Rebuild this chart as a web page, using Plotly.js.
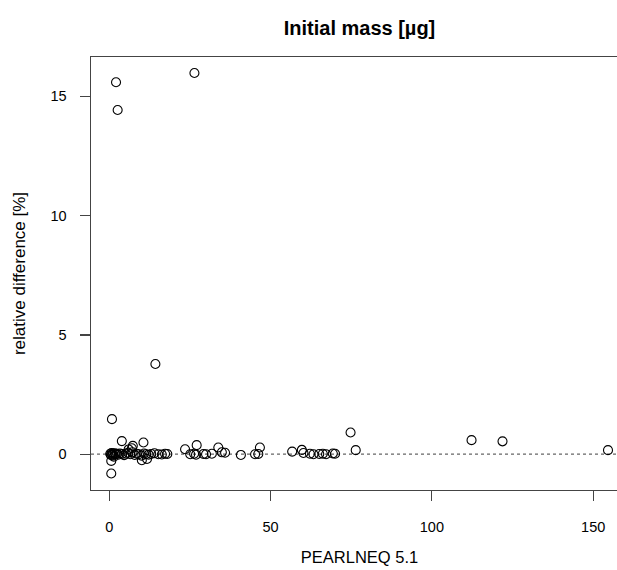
<!DOCTYPE html>
<html>
<head>
<meta charset="utf-8">
<script src="https://cdn.plot.ly/plotly-3.0.1.min.js"></script>
<style>
html, body { margin: 0; padding: 0; overflow: hidden; background: #fff; }
#chart { width: 640px; height: 570px; }
</style>
</head>
<body>
<div id="chart"></div>
<script>
// PEARLNEQ 5.1 initial mass (x) vs relative difference in % (y)
const pearlneq = [
  2.1, 2.6, 26.4, 14.3, 0.84, 0.62, 0.62, 3.9, 7.3, 7.0, 10.6, 6.0, 10.1, 11.7,
  23.5, 27.1, 33.8, 46.7, 56.7, 59.7, 74.8, 76.4, 112.3, 121.9, 154.6,
  0.3, 0.5, 0.7, 0.9, 1.0, 1.2, 1.4, 1.7, 2.0, 2.4, 2.8, 3.3, 4.0, 4.6, 5.2, 5.8,
  6.5, 7.2, 7.9, 8.5, 9.2, 10.0, 10.8, 11.4, 12.2, 13.0, 14.0, 15.2, 16.3, 17.3, 18.0,
  25.1, 26.3, 26.9, 29.2, 30.0, 31.8, 34.9, 35.9, 40.8, 45.2, 46.2,
  60.2, 62.2, 63.3, 65.1, 66.2, 67.2, 69.3, 70.0
];
const relDiff = [
  15.59, 14.43, 15.98, 3.78, 1.47, -0.81, -0.28, 0.55, 0.35, 0.25, 0.49, 0.20, -0.25, -0.20,
  0.21, 0.38, 0.28, 0.28, 0.11, 0.18, 0.91, 0.17, 0.59, 0.54, 0.17,
  0.02, -0.03, 0.05, 0.00, -0.05, 0.03, -0.10, 0.04, 0.00, 0.02, -0.02, 0.03, 0.01, -0.04, 0.02, 0.06,
  0.00, 0.08, -0.03, 0.02, 0.00, -0.06, 0.03, 0.00, -0.02, 0.01, 0.04, 0.00, -0.01, 0.02, 0.01,
  0.00, 0.02, -0.02, 0.01, 0.00, 0.02, 0.08, 0.06, -0.03, 0.00, 0.01,
  0.05, 0.02, 0.00, 0.01, 0.02, 0.00, 0.03, 0.02
];
const xTicks = [0, 50, 100, 150];
const yTicks = [0, 5, 10, 15];

const font = "'Liberation Sans', Arial, sans-serif";
const boxColor = '#444';

const trace = {
  x: pearlneq,
  y: relDiff,
  type: 'scatter',
  mode: 'markers',
  marker: { symbol: 'circle-open', size: 9, color: '#000', line: { width: 1.1, color: '#000' } },
  hoverinfo: 'x+y',
  showlegend: false
};

const layout = {
  width: 640,
  height: 570,
  margin: { l: 91, r: 12, t: 57, b: 80 },
  paper_bgcolor: '#fff',
  plot_bgcolor: '#fff',
  font: { family: font, color: '#000', size: 14.5 },
  title: {
    text: '<b>Initial mass [µg]</b>',
    font: { family: font, size: 20, color: '#000' },
    x: 0.5, xref: 'paper', xanchor: 'center',
    y: 1 - 28 / 570, yref: 'container', yanchor: 'middle'
  },
  xaxis: {
    range: [-5.66, 160.8],
    tickvals: xTicks,
    ticktext: xTicks.map(String),
    ticks: 'outside', ticklen: 10, tickwidth: 1.2, tickcolor: boxColor,
    showline: true, mirror: true, linecolor: boxColor, linewidth: 1.4,
    showgrid: false, zeroline: false,
    ticklabelstandoff: 13,
    tickfont: { family: font, size: 14.5, color: '#000' },
    title: { text: 'PEARLNEQ 5.1', font: { family: font, size: 16.5, color: '#000' }, standoff: 17 }
  },
  yaxis: {
    range: [-1.5, 16.65],
    tickvals: yTicks,
    ticktext: yTicks.map(String),
    ticks: 'outside', ticklen: 10, tickwidth: 1.2, tickcolor: boxColor,
    showline: true, mirror: true, linecolor: boxColor, linewidth: 1.4,
    showgrid: false, zeroline: false,
    ticklabelstandoff: 10,
    tickfont: { family: font, size: 14.5, color: '#000' },
    title: { text: 'relative difference [%]', font: { family: font, size: 17, color: '#000' }, standoff: 20 }
  },
  shapes: [{
    type: 'line', xref: 'paper', x0: 0, x1: 1, yref: 'y', y0: 0, y1: 0,
    line: { color: '#666', width: 1.3, dash: 'dot' }, layer: 'below'
  }]
};

Plotly.newPlot('chart', [trace], layout, { displayModeBar: false, staticPlot: true });
</script>
</body>
</html>
